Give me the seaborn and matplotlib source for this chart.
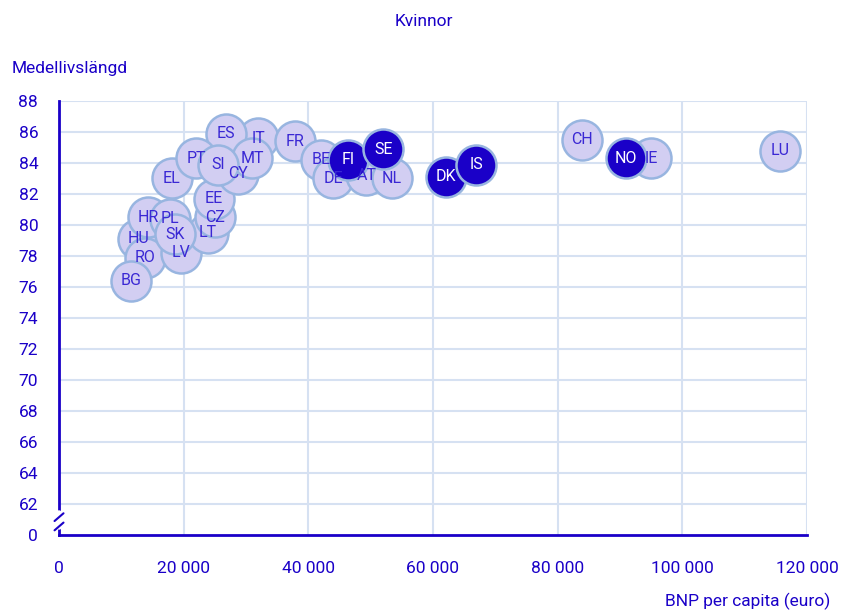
import numpy as np
import pandas as pd
import seaborn as sns
import matplotlib.pyplot as plt

# data (listed in drawing order)
countries = ['HU', 'RO', 'BG', 'HR', 'LV', 'LT', 'PL', 'SK', 'CZ', 'EE', 'EL', 'CY', 'IT', 'ES',
             'PT', 'MT', 'SI', 'FR', 'BE', 'DE', 'AT', 'NL', 'FI', 'SE', 'DK', 'IS', 'CH', 'IE',
             'NO', 'LU']
gdp = [12700, 13800, 11600, 14300, 19600, 23900, 17800, 18600, 25000, 24900, 18100, 28700,
       32000, 26800, 22000, 31000, 25500, 37900, 42000, 44000, 49300, 53400, 46400, 52000,
       62100, 66900, 83900, 95000, 91000, 115700]
life = [79.1, 77.9, 76.4, 80.5, 78.2, 79.5, 80.4, 79.4, 80.5, 81.7, 83.0, 83.3, 85.6, 85.9,
        84.3, 84.3, 83.9, 85.4, 84.2, 83.0, 83.2, 83.0, 84.2, 84.9, 83.1, 83.9, 85.5, 84.3,
        84.3, 84.8]
nordic = ['FI', 'SE', 'DK', 'IS', 'NO']

df = pd.DataFrame({'land': countries, 'bnp': gdp, 'liv': life})
df['grupp'] = np.where(df['land'].isin(nordic), 'Norden', 'Övriga')

blue = '#1a00c8'
light = '#d2cef2'
edge = '#98b5e0'
grid = '#d6e1f2'

sns.set_style('white')
plt.rcParams['font.family'] = ['Roboto', 'DejaVu Sans']

fig = plt.figure(figsize=(8.48, 6.14), dpi=100)
ax = fig.add_axes([0.0696, 0.1287, 0.882, 0.7068])

# one call per country to keep the bubble stacking order
for i in range(len(df)):
    sns.scatterplot(ax=ax, data=df.iloc[[i]], x='bnp', y='liv', hue='grupp',
                    palette={'Övriga': light, 'Norden': blue},
                    s=830, edgecolor=edge, linewidth=1.8, legend=False, clip_on=False,
                    zorder=3 + i * 0.01)

# labels above all bubbles
for _, r in df.iterrows():
    c = 'white' if r['grupp'] == 'Norden' else '#3a28d4'
    ax.text(r['bnp'], r['liv'], r['land'], ha='center', va='center', fontsize=11.5,
            color=c, zorder=10)

ax.set_xlim(0, 120000)
ax.set_ylim(60, 88)
xt = np.arange(0, 120001, 20000)
ax.set_xticks(xt)
ax.set_xticklabels(['0' if v == 0 else f'{v:,}'.replace(',', ' ') for v in xt])
yt = np.arange(60, 89, 2)
ax.set_yticks(yt)
ax.set_yticklabels(['0'] + [str(v) for v in yt[1:]])

for v in yt[1:]:
    ax.axhline(v, color=grid, lw=1.5, zorder=0)
for v in xt[1:]:
    ax.axvline(v, color=grid, lw=1.5, zorder=0)

for s in ['top', 'right']:
    ax.spines[s].set_visible(False)
for s in ['left', 'bottom']:
    ax.spines[s].set_color(blue)
    ax.spines[s].set_linewidth(2)
ax.tick_params(axis='both', colors=blue, labelsize=12.5, length=7, width=1.5, direction='out')
ax.tick_params(axis='y', pad=8)
ax.tick_params(axis='x', pad=12)

# axis break marks
ax.plot([0, 0], [60.5, 61.4], color='white', lw=4, clip_on=False, zorder=80,
        transform=ax.get_yaxis_transform())
for y0 in [60.55, 61.15]:
    ax.plot([-0.006, 0.006], [y0 - 0.25, y0 + 0.25], color=blue, lw=1.5, clip_on=False,
            zorder=81, transform=ax.get_yaxis_transform())

ax.set_xlabel('')
ax.set_ylabel('')
fig.text(0.5, 0.965, 'Kvinnor', ha='center', va='center', fontsize=12.5, color=blue)
fig.text(0.014, 0.889, 'Medellivslängd', ha='left', va='center', fontsize=12.5, color=blue)
fig.text(0.979, 0.021, 'BNP per capita (euro)', ha='right', va='center', fontsize=12.5,
         color=blue)

fig.savefig('out.png', dpi=100)
